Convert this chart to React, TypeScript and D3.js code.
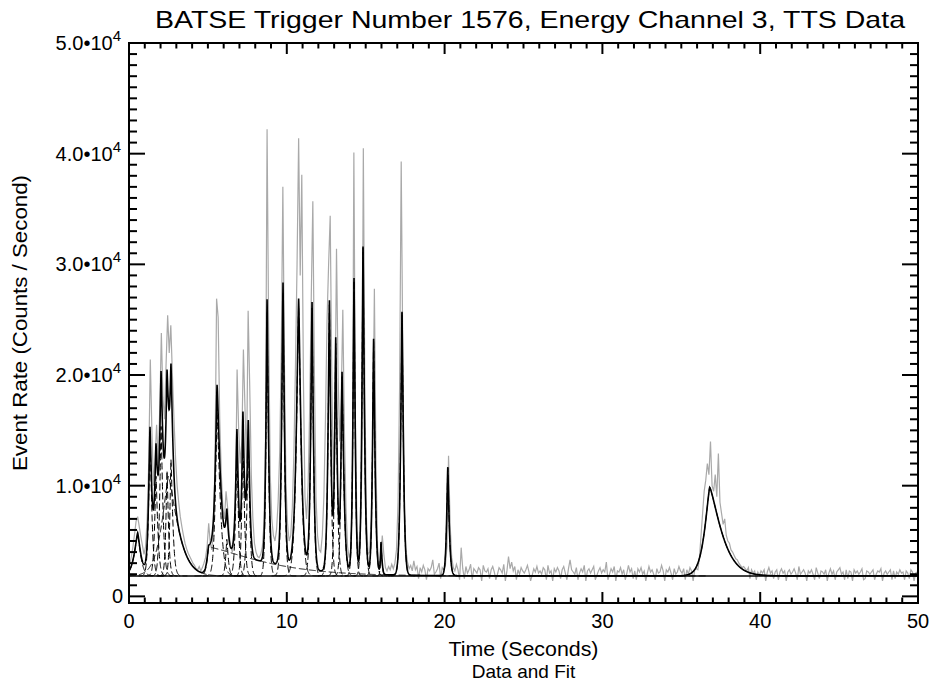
import React from 'react';
import * as d3 from 'd3';

// ---- Data ----
const binStart = 0;
const binWidth = 0.1; // seconds
// Observed event rate (counts / s), one value per 0.1 s bin from 0 to 50 s
const rateData = [
  2900, 3600, 4500, 5600, 6800, 7200, 6300, 5400, 4600, 3800,
  4500, 7000, 12000, 21400, 15000, 10000, 12500, 15500, 12000, 17000,
  23800, 18000, 16000, 21000, 25400, 22000, 24500, 20000, 16000, 12500,
  10000, 8500, 7200, 6300, 5500, 4800, 4300, 3900, 3600, 3300,
  3000, 2800, 2500, 2400, 2700, 2300, 2600, 3000, 3500, 4500,
  6600, 4800, 4200, 6000, 12000, 26900, 25200, 16000, 11000, 8000,
  7000, 9500, 8000, 5500, 4500, 4000, 5000, 9000, 20500, 15000,
  12000, 14000, 22300, 17000, 12000, 25800, 19000, 11000, 7000, 4800,
  4000, 3600, 3500, 3800, 4500, 6500, 14000, 42200, 24000, 11000,
  7000, 5500, 5000, 6000, 8500, 13000, 22000, 37000, 21000, 10000,
  6500, 5000, 5500, 8000, 13000, 21000, 30000, 41400, 29000, 38100,
  20000, 9000, 7000, 10000, 17000, 27000, 35700, 20000, 9000, 5500,
  4200, 4000, 5500, 9000, 16000, 25000, 30000, 34400, 20000, 11000,
  16000, 31400, 20000, 14000, 18000, 25900, 15000, 8000, 4500, 3500,
  4000, 9000, 40100, 16000, 6000, 4000, 5000, 11000, 40500, 18000,
  7000, 3800, 4000, 7000, 14000, 27800, 12000, 4500, 3000, 3200,
  5500, 3800, 2600, 2300, 2700, 2400, 2900, 2500, 3000, 4200,
  8500, 19000, 39300, 22000, 8000, 4200, 3100, 2500, 2800, 2300,
  3200, 2400, 2700, 1600, 2600, 2200, 2800, 2400, 1500, 2500,
  2300, 2600, 3300, 2000, 2200, 2500, 3000, 1600, 2600, 2400,
  2800, 4500, 12700, 6500, 3500, 2600, 2300, 2900, 2400, 1500,
  4400, 2500, 1600, 2700, 2100, 2400, 2900, 1500, 2500, 2300,
  2100, 2600, 2400, 1400, 2800, 2300, 2200, 2500, 1600, 2400,
  2700, 2200, 1500, 2000, 2600, 2400, 2100, 2900, 1400, 2300,
  3600, 2500, 3100, 2300, 2700, 1500, 2400, 2000, 2600, 2300,
  2100, 2400, 2800, 2200, 1400, 1900, 2500, 2200, 2700, 2100,
  2300, 2000, 2600, 2400, 1500, 2800, 2100, 2300, 1400, 2500,
  2200, 2600, 2300, 1600, 2400, 2700, 2100, 1500, 2500, 3300,
  2400, 2200, 2000, 2600, 1500, 2100, 2500, 2200, 2800, 1400,
  2300, 2500, 2100, 2400, 2700, 1500, 1900, 2300, 2600, 2100,
  2400, 2200, 3100, 1500, 2000, 2500, 2200, 2700, 1400, 2300,
  2200, 2600, 2000, 2400, 1500, 2100, 2800, 2200, 2500, 1600,
  2300, 1500, 2500, 2200, 2600, 2000, 2300, 1400, 2100, 2700,
  2200, 2400, 2000, 1500, 2500, 2100, 2200, 2800, 2300, 1400,
  2400, 2200, 2600, 2100, 1500, 2500, 2000, 2200, 2700, 2300,
  2100, 2500, 1500, 2400, 2000, 2600, 2300, 1400, 2400, 2500,
  2400, 3500, 5500, 7500, 9500, 10500, 12000, 11000, 14000, 10000,
  9500, 11000, 9000, 12900, 8500, 7500, 6500, 7000, 5500, 5000,
  4800, 4200, 4000, 3700, 3400, 3300, 3000, 2800, 2600, 2700,
  2500, 2300, 2600, 1600, 2400, 2100, 2300, 1500, 2200, 1900,
  2300, 2100, 2400, 1400, 2200, 2600, 2100, 2300, 1600, 2200,
  2400, 1500, 2200, 2500, 2100, 2300, 1400, 2200, 2400, 2000,
  2200, 2500, 2100, 1500, 2700, 2000, 2200, 2400, 2100, 1400,
  2300, 2100, 2400, 2000, 1500, 2600, 2100, 1600, 2300, 2200,
  2000, 2400, 1400, 2100, 2500, 2000, 2300, 1500, 2200, 2400,
  2600, 2000, 2200, 1500, 2400, 1600, 2300, 2200, 1400, 2400,
  2100, 2300, 2000, 2200, 2500, 1500, 1600, 2300, 2200, 2000,
  2200, 2400, 1500, 2000, 2300, 2200, 2500, 1400, 2100, 2300,
  2000, 2200, 2400, 1500, 2300, 1600, 2200, 2000, 2400, 2100,
  2200, 1500, 2300, 2100, 1600, 2400, 2200, 1400, 2100, 2200,
];

// Fit: constant background plus pulses (peak time, amplitude above bg, rise & decay widths in s)
const background = 1850;
const pulsePeak  = [0.55, 2.5, 1.33, 1.71, 2.03, 2.41, 2.66, 5.05, 5.58, 6.2, 6.84, 7.22, 7.56, 8.75, 9.76, 10.75, 11.6, 12.7, 13.1, 13.5, 14.26, 14.83, 15.5, 15.97, 17.3, 20.2, 36.8];
const pulseAmp   = [3800, 9000, 12500, 9000, 13500, 9500, 10500, 2600, 14800, 3300, 11300, 12700, 12200, 23800, 25600, 24400, 24200, 24500, 21000, 18000, 26700, 29600, 21300, 2900, 23800, 9800, 8000];
const pulseRise  = [0.3, 0.6, 0.12, 0.12, 0.12, 0.1, 0.1, 0.15, 0.15, 0.1, 0.12, 0.1, 0.12, 0.1, 0.12, 0.2, 0.12, 0.12, 0.1, 0.1, 0.1, 0.1, 0.1, 0.05, 0.12, 0.1, 0.45];
const pulseDecay = [0.25, 0.8, 0.15, 0.15, 0.15, 0.12, 0.15, 4.5, 0.25, 0.12, 0.12, 0.12, 0.12, 0.12, 0.12, 0.2, 0.12, 0.12, 0.12, 0.15, 0.1, 0.12, 0.12, 0.08, 0.12, 0.12, 1.0];
const pulseSharpness = 1.3;

const xTickValues = [0, 10, 20, 30, 40, 50];
const xTickLabels = ['0', '10', '20', '30', '40', '50'];
const yTickValues = [0, 10000, 20000, 30000, 40000, 50000];
const yTickMantissa = ['0', '1.0•10', '2.0•10', '3.0•10', '4.0•10', '5.0•10'];
const yTickExponent = ['', '4', '4', '4', '4', '4'];

const titleText = 'BATSE Trigger Number 1576, Energy Channel 3, TTS Data';
const xTitle = 'Time (Seconds)';
const xSubtitle = 'Data and Fit';
const yTitle = 'Event Rate (Counts / Second)';

// ---- Layout ----
const W = 933, H = 686;
const L = 129, R = 918, T = 43, B = 603;
const FONT = '"Liberation Sans", Arial, Helvetica, sans-serif';

function pulse(i: number, t: number) {
  const dt = t - pulsePeak[i];
  const w = dt < 0 ? pulseRise[i] : pulseDecay[i];
  return pulseAmp[i] * Math.exp(-Math.pow(Math.abs(dt) / w, pulseSharpness));
}

export default function App() {
  const x = d3.scaleLinear().domain([0, 50]).range([L, R]);
  const y = d3.scaleLinear().domain([-600, 50000]).range([B, T]);

  const dataPts = rateData.map((v, i) => [binStart + (i + 0.5) * binWidth, v] as [number, number]);
  const line = d3.line<[number, number]>().x(d => x(d[0])).y(d => y(d[1]));
  const dataPath = line(dataPts) || '';

  const grid = d3.range(0, 50.0001, 0.01);
  const fitPts = grid.map(t => {
    let s = background;
    for (let i = 0; i < pulsePeak.length; i++) s += pulse(i, t);
    return [t, s] as [number, number];
  });
  const fitPath = line(fitPts) || '';

  const pulsePaths = pulsePeak.map((tp, i) => {
    const t0 = Math.max(0, tp - 6 * pulseRise[i]);
    const t1 = Math.min(50, tp + 7 * pulseDecay[i]);
    const pts = d3.range(t0, t1, 0.01).map(t => [t, background + pulse(i, t)] as [number, number]);
    return line(pts) || '';
  });

  const xMinor = d3.range(1, 50).filter(v => v % 10 !== 0);
  const yMinor = d3.range(1000, 50000, 1000).filter(v => v % 10000 !== 0);
  const xMaj = 11, xMin = 5.5, yMaj = 16, yMin = 8;

  return (
    <svg width={W} height={H} style={{ position: 'absolute', left: 0, top: 0, background: '#fff' }} fontFamily={FONT}>
      <defs>
        <clipPath id="plotclip"><rect x={L} y={T} width={R - L} height={B - T} /></clipPath>
      </defs>
      <rect x={0} y={0} width={W} height={H} fill="#fff" />
      <g clipPath="url(#plotclip)">
        <path d={dataPath} fill="none" stroke="#a9a9a9" strokeWidth={1.2} />
        {pulsePaths.map((p, i) => (
          <path key={i} d={p} fill="none" stroke="#000" strokeWidth={1} strokeDasharray="7,3" />
        ))}
        <line x1={L} x2={R} y1={y(background)} y2={y(background)} stroke="#000" strokeWidth={1.5} />
        <path d={fitPath} fill="none" stroke="#000" strokeWidth={1.6} />
      </g>
      {/* frame */}
      <rect x={L} y={T} width={R - L} height={B - T} fill="none" stroke="#000" strokeWidth={2} />
      {/* x ticks */}
      {xTickValues.map(v => (
        <g key={'xM' + v}>
          <line x1={x(v)} x2={x(v)} y1={B} y2={B - xMaj} stroke="#000" strokeWidth={2} />
          <line x1={x(v)} x2={x(v)} y1={T} y2={T + xMaj} stroke="#000" strokeWidth={2} />
        </g>
      ))}
      {xMinor.map(v => (
        <g key={'xm' + v}>
          <line x1={x(v)} x2={x(v)} y1={B} y2={B - xMin} stroke="#000" strokeWidth={2} />
          <line x1={x(v)} x2={x(v)} y1={T} y2={T + xMin} stroke="#000" strokeWidth={2} />
        </g>
      ))}
      {/* y ticks */}
      {yTickValues.map(v => (
        <g key={'yM' + v}>
          <line x1={L} x2={L + yMaj} y1={y(v)} y2={y(v)} stroke="#000" strokeWidth={2} />
          <line x1={R} x2={R - yMaj} y1={y(v)} y2={y(v)} stroke="#000" strokeWidth={2} />
        </g>
      ))}
      {yMinor.map(v => (
        <g key={'ym' + v}>
          <line x1={L} x2={L + yMin} y1={y(v)} y2={y(v)} stroke="#000" strokeWidth={2} />
          <line x1={R} x2={R - yMin} y1={y(v)} y2={y(v)} stroke="#000" strokeWidth={2} />
        </g>
      ))}
      {/* tick labels */}
      {xTickValues.map((v, i) => (
        <text key={'xl' + v} x={x(v)} y={628} fontSize={20} textAnchor="middle" fill="#000">{xTickLabels[i]}</text>
      ))}
      {yTickValues.map((v, i) => (
        <text key={'yl' + v} x={yTickExponent[i] ? 121 : 123} y={y(v) + 7} fontSize={20} textAnchor="end" fill="#000">
          {yTickMantissa[i]}
          {yTickExponent[i] ? <tspan dy={-9} fontSize={15}>{yTickExponent[i]}</tspan> : null}
        </text>
      ))}
      {/* titles */}
      <text x={530} y={28} fontSize={24} textAnchor="middle" textLength={750} lengthAdjust="spacingAndGlyphs" fill="#000">{titleText}</text>
      <text x={(L + R) / 2} y={656} fontSize={20} textAnchor="middle" textLength={150} lengthAdjust="spacingAndGlyphs" fill="#000">{xTitle}</text>
      <text x={(L + R) / 2} y={678} fontSize={19} textAnchor="middle" fill="#000">{xSubtitle}</text>
      <text transform={`translate(27, ${(T + B) / 2}) rotate(-90)`} fontSize={20} textAnchor="middle" textLength={296} lengthAdjust="spacingAndGlyphs" fill="#000">{yTitle}</text>
    </svg>
  );
}
